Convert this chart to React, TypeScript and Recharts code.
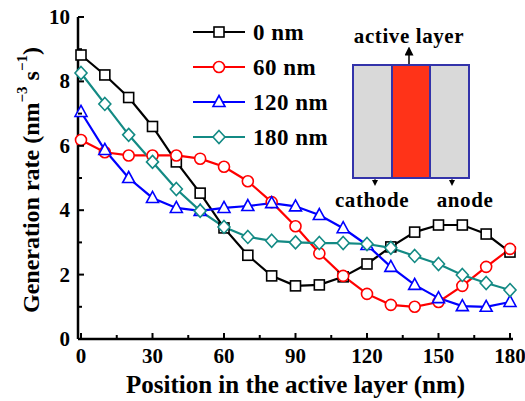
import { LineChart, Line, XAxis, YAxis, Legend } from "recharts";

const positions = [0, 10, 20, 30, 40, 50, 60, 70, 80, 90, 100, 110, 120, 130, 140, 150, 160, 170, 180];
const rate0nm = [8.82, 8.2, 7.5, 6.6, 5.5, 4.53, 3.45, 2.6, 1.96, 1.65, 1.68, 1.93, 2.33, 2.86, 3.32, 3.54, 3.54, 3.26, 2.7];
const rate60nm = [6.18, 5.8, 5.7, 5.7, 5.7, 5.6, 5.35, 4.9, 4.25, 3.5, 2.66, 1.96, 1.4, 1.06, 1.0, 1.15, 1.65, 2.24, 2.8];
const rate120nm = [7.05, 5.87, 5.0, 4.38, 4.07, 3.98, 4.07, 4.13, 4.22, 4.12, 3.85, 3.44, 2.92, 2.24, 1.68, 1.27, 1.02, 1.0, 1.15];
const rate180nm = [8.26, 7.3, 6.34, 5.5, 4.66, 3.98, 3.48, 3.17, 3.05, 3.0, 2.98, 2.98, 2.95, 2.83, 2.58, 2.33, 1.99, 1.74, 1.52];

const xTicks = [0, 15, 30, 45, 60, 75, 90, 105, 120, 135, 150, 165, 180];
const yTicks = [0, 1, 2, 3, 4, 5, 6, 7, 8, 9, 10];

const FONT = "'Liberation Serif', 'Times New Roman', serif";

type MarkerKind = "square" | "circle" | "triangle" | "diamond";

const series: { key: string; name: string; color: string; marker: MarkerKind }[] = [
  { key: "r0", name: "0 nm", color: "#000000", marker: "square" },
  { key: "r60", name: "60 nm", color: "#ff0000", marker: "circle" },
  { key: "r120", name: "120 nm", color: "#0000ff", marker: "triangle" },
  { key: "r180", name: "180 nm", color: "#138a84", marker: "diamond" },
];

const data = positions.map((x, i) => ({
  x,
  r0: rate0nm[i],
  r60: rate60nm[i],
  r120: rate120nm[i],
  r180: rate180nm[i],
}));

function Marker({ kind, cx, cy, color }: { kind: MarkerKind; cx: number; cy: number; color: string }) {
  const common = { fill: "#fff", stroke: color, strokeWidth: 1.6 };
  if (kind === "square") return <rect x={cx - 5} y={cy - 5} width={10} height={10} {...common} />;
  if (kind === "circle") return <circle cx={cx} cy={cy} r={5.5} {...common} />;
  if (kind === "triangle")
    return <polygon points={`${cx},${cy - 6.5} ${cx + 6},${cy + 4.5} ${cx - 6},${cy + 4.5}`} {...common} />;
  return <polygon points={`${cx},${cy - 6.5} ${cx + 6},${cy} ${cx},${cy + 6.5} ${cx - 6},${cy}`} {...common} />;
}

function XTick(props: any) {
  const { x, y, payload } = props;
  const major = payload.value % 30 === 0;
  return (
    <g>
      <line x1={x} x2={x} y1={y} y2={y - (major ? 6 : 4)} stroke="#000" strokeWidth={2} />
      {major && (
        <text x={x} y={y + 24} textAnchor="middle" fontFamily={FONT} fontWeight="bold" fontSize={21} fill="#000">
          {payload.value}
        </text>
      )}
    </g>
  );
}

function YTick(props: any) {
  const { x, y, payload } = props;
  const major = payload.value % 2 === 0;
  return (
    <g>
      <line x1={x} x2={x + (major ? 6 : 4)} y1={y} y2={y} stroke="#000" strokeWidth={2} />
      {major && (
        <text x={x - 8} y={y + 7} textAnchor="end" fontFamily={FONT} fontWeight="bold" fontSize={21} fill="#000">
          {payload.value}
        </text>
      )}
    </g>
  );
}

function LegendBox() {
  return (
    <svg width={140} height={140}>
      {series.map((s, i) => {
        const cy = 18 + i * 35;
        return (
          <g key={s.key}>
            <line x1={3} x2={55} y1={cy} y2={cy} stroke={s.color} strokeWidth={2.2} />
            <Marker kind={s.marker} cx={29} cy={cy} color={s.color} />
            <text x={63} y={cy + 8} fontFamily={FONT} fontWeight="bold" fontSize={23} letterSpacing={0.5} fill="#000">
              {s.name}
            </text>
          </g>
        );
      })}
    </svg>
  );
}

function Inset() {
  const txt = { fontFamily: FONT, fontWeight: "bold" as const, fontSize: 21, fill: "#000", letterSpacing: 0.6 };
  return (
    <svg width={525} height={401} style={{ position: "absolute", left: 0, top: 0, pointerEvents: "none" }}>
      <defs>
        <marker id="ah" markerWidth={6} markerHeight={6} refX={3} refY={3} orient="auto">
          <path d="M0,0 L6,3 L0,6 z" fill="#000" />
        </marker>
      </defs>
      <rect x={353} y={65} width={116} height={113} fill="#d9d9d9" stroke="#3333aa" strokeWidth={2} />
      <rect x={392} y={65} width={38} height={113} fill="#ff3318" stroke="#3333aa" strokeWidth={2} />
      <text x={409} y={43} textAnchor="middle" {...txt}>
        active layer
      </text>
      <line x1={409} y1={64} x2={409} y2={51} stroke="#000" strokeWidth={1.5} markerEnd="url(#ah)" />
      <line x1={375} y1={179} x2={375} y2={183} stroke="#000" strokeWidth={1} markerEnd="url(#ah)" />
      <line x1={452} y1={179} x2={452} y2={183} stroke="#000" strokeWidth={1} markerEnd="url(#ah)" />
      <text x={372} y={207} textAnchor="middle" {...txt}>
        cathode
      </text>
      <text x={465} y={207} textAnchor="middle" {...txt}>
        anode
      </text>
    </svg>
  );
}

export default function App() {
  return (
    <div style={{ position: "relative", width: 525, height: 401, background: "#fff" }}>
      <style>{"body{margin:0}"}</style>
      <LineChart width={525} height={401} data={data} margin={{ top: 17, right: 12, left: 0, bottom: 0 }}>
        <XAxis
          dataKey="x"
          type="number"
          domain={[0, 180]}
          ticks={xTicks}
          interval={0}
          padding={{ left: 3, right: 3 }}
          height={62}
          tickSize={0}
          tickMargin={0}
          tickLine={false}
          tick={<XTick />}
          axisLine={{ stroke: "#000", strokeWidth: 2.5 }}
          label={{
            value: "Position in the active layer (nm)",
            position: "insideBottom",
            offset: 8,
            style: { fontFamily: FONT, fontWeight: "bold", fontSize: 25, fill: "#000" },
          }}
        />
        <XAxis
          xAxisId="top"
          orientation="top"
          dataKey="x"
          type="number"
          domain={[0, 180]}
          height={0}
          tick={false}
          tickLine={false}
          axisLine={{ stroke: "#000", strokeWidth: 2.5 }}
        />
        <YAxis
          type="number"
          domain={[0, 10]}
          ticks={yTicks}
          interval={0}
          width={78}
          tickSize={0}
          tickMargin={0}
          tickLine={false}
          tick={<YTick />}
          axisLine={{ stroke: "#000", strokeWidth: 2.5 }}
          label={(p: any) => {
            const vb = p.viewBox;
            const cx = 31;
            const cy = vb.y + vb.height / 2 + 2;
            return (
              <text
                x={cx}
                y={cy}
                transform={`rotate(-90 ${cx} ${cy})`}
                textAnchor="middle"
                dominantBaseline="central"
                fontFamily={FONT}
                fontWeight="bold"
                fontSize={24}
                fill="#000"
              >
                Generation rate (nm
                <tspan dy={-9} fontSize={15}>−3</tspan>
                <tspan dy={9}> s</tspan>
                <tspan dy={-9} fontSize={15}>−1</tspan>
                <tspan dy={9}>)</tspan>
              </text>
            );
          }}
        />
        <YAxis
          yAxisId="right"
          orientation="right"
          type="number"
          domain={[0, 10]}
          width={0}
          tick={false}
          tickLine={false}
          axisLine={{ stroke: "#000", strokeWidth: 2.5 }}
        />
        <Legend
          layout="vertical"
          align="center"
          verticalAlign="middle"
          wrapperStyle={{ left: 190, top: 14, width: 140 }}
          content={() => <LegendBox />}
        />
        {series.map((s) => (
          <Line
            key={s.key}
            dataKey={s.key}
            name={s.name}
            stroke={s.color}
            strokeWidth={2.2}
            isAnimationActive={false}
            dot={(p: any) => <Marker key={`${s.key}-${p.index}`} kind={s.marker} cx={p.cx} cy={p.cy} color={s.color} />}
            activeDot={false}
          />
        ))}
      </LineChart>
      <Inset />
    </div>
  );
}
